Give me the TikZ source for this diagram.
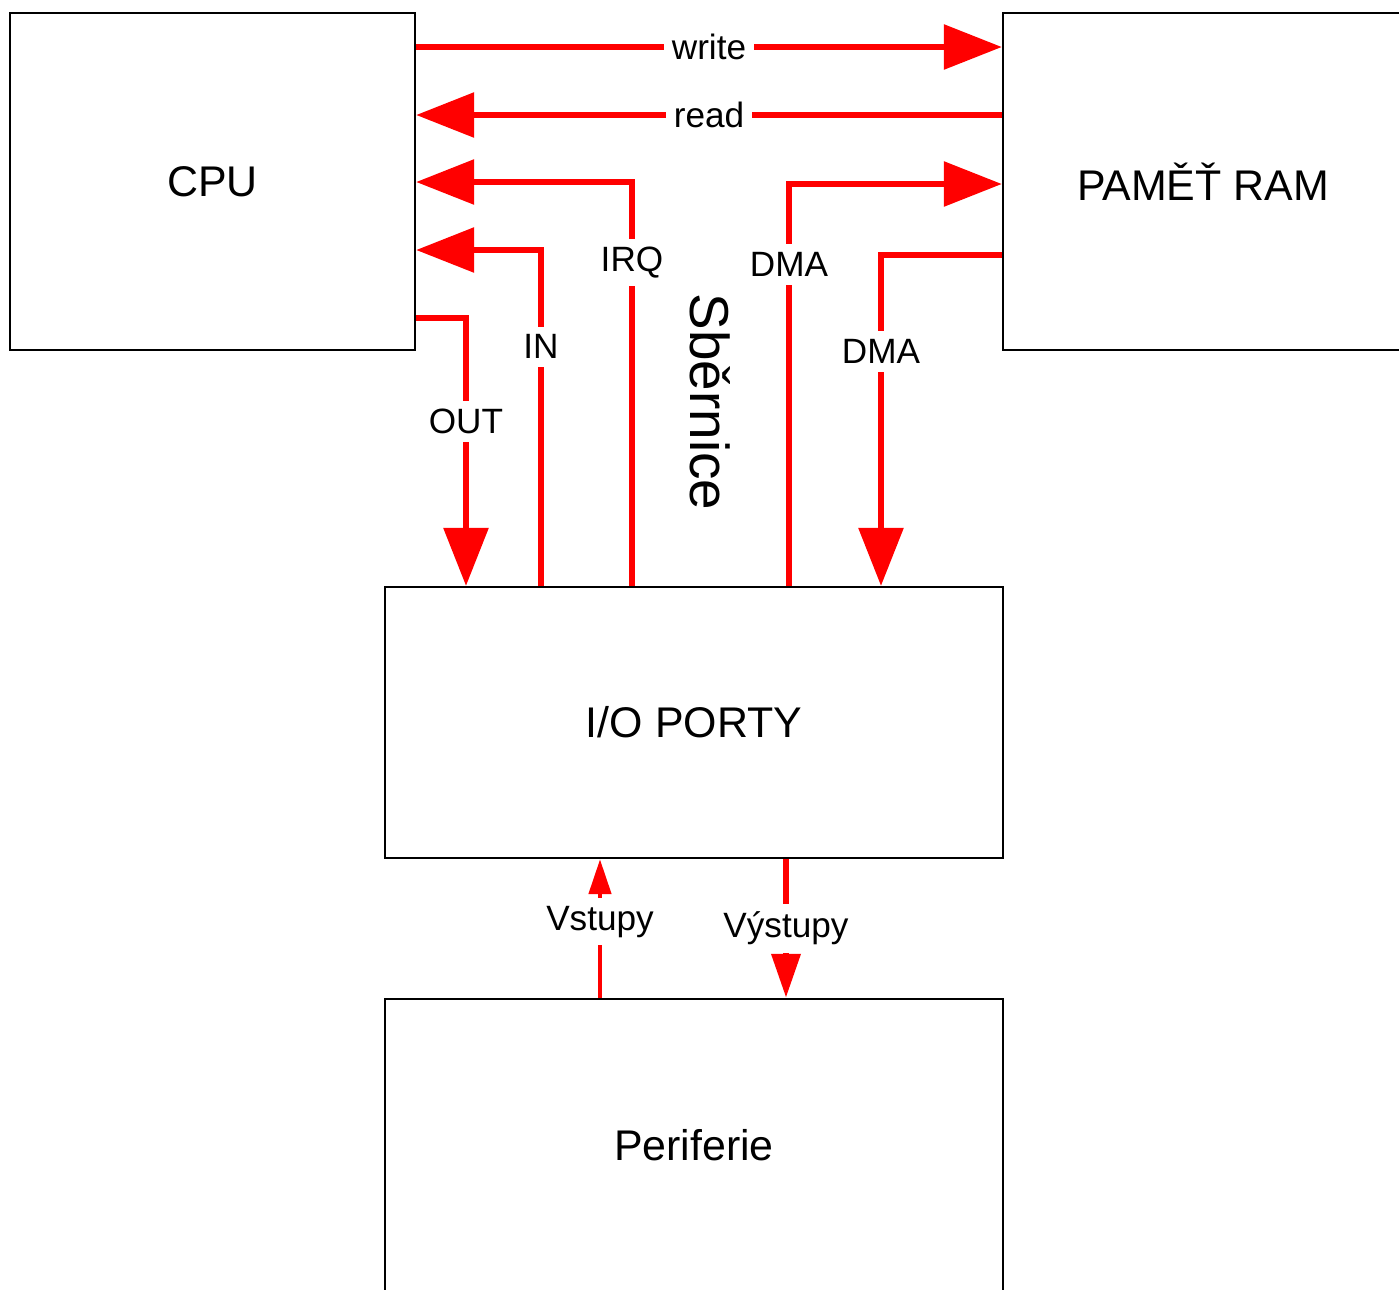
\documentclass[tikz,border=0pt]{standalone}
\usepackage{fontspec}
\setmainfont{Liberation Sans}
\usetikzlibrary{arrows.meta,calc}

\begin{document}
\begin{tikzpicture}[
  x=0.01cm, y=-0.01cm,
  box/.style={draw, rectangle, line width=0.6pt, inner sep=0pt,
              font=\fontsize{12.2}{14}\selectfont},
  bus/.style={draw=red, line width=1.7pt},
  bigtip/.style={-{Triangle[length=0.58cm, width=0.44cm]}},
  lbl/.style={fill=white, inner sep=2.3pt, font=\fontsize{10}{12}\selectfont}
]
\path[use as bounding box, clip] (0,0) rectangle (1399,1290);

%% Blocks
\node[box, minimum width=4.05cm, minimum height=3.37cm] (cpu) at (212.5,181.5) {CPU};
\node[box, minimum width=4.00cm, minimum height=3.37cm] (ram) at (1203,181.5) {PAMĚŤ RAM};
\node[box, minimum width=6.18cm, minimum height=2.71cm] (io)  at (694,722.5) {I/O PORTY};
\node[box, minimum width=6.18cm, minimum height=2.92cm] (per) at (694,1145) {Periferie};
\node[font=\fontsize{15.6}{18}\selectfont, rotate=-90] (sb) at (710,402) {Sběrnice};

%% Bus lines
\coordinate (ywrite)  at (0,47);
\coordinate (yread)   at (0,115);
\coordinate (irqbend) at (632,182);
\coordinate (inbend)  at (541,250);
\coordinate (outbend) at (466,318);
\coordinate (dmabend) at (789,184);
\coordinate (dmaback) at (881,255);
\coordinate (xvst)    at (600,0);
\coordinate (xvyst)   at (786,0);

\draw[bus, bigtip] (cpu.east |- ywrite) -- node[lbl] {write} (ram.west |- ywrite);
\draw[bus, bigtip] (ram.west |- yread) -- node[lbl] {read} (cpu.east |- yread);
\draw[bus, bigtip] (io.north -| irqbend) |- node[lbl, pos=0.40] {IRQ} (cpu.east |- irqbend);
\draw[bus, bigtip] (io.north -| inbend) |- node[lbl, pos=0.356] {IN} (cpu.east |- inbend);
\draw[bus, bigtip] (cpu.east |- outbend) -| node[lbl, pos=0.693] {OUT} (io.north -| outbend);
\draw[bus, bigtip] (io.north -| dmabend) |- node[lbl, pos=0.40] {DMA} (ram.west |- dmabend);
\draw[bus, bigtip] (ram.west |- dmaback) -| node[lbl, pos=0.646] {DMA} (io.north -| dmaback);

%% Peripheral lines
\draw[draw=red, line width=1.3pt, -{Triangle[length=0.35cm, width=0.22cm]}]
  (per.north -| xvst) -- node[lbl, pos=0.55] {Vstupy} (io.south -| xvst);
\draw[draw=red, line width=1.9pt, -{Triangle[length=0.44cm, width=0.28cm]}]
  (io.south -| xvyst) -- node[lbl, pos=0.5] {Výstupy} (per.north -| xvyst);
\end{tikzpicture}
\end{document}
